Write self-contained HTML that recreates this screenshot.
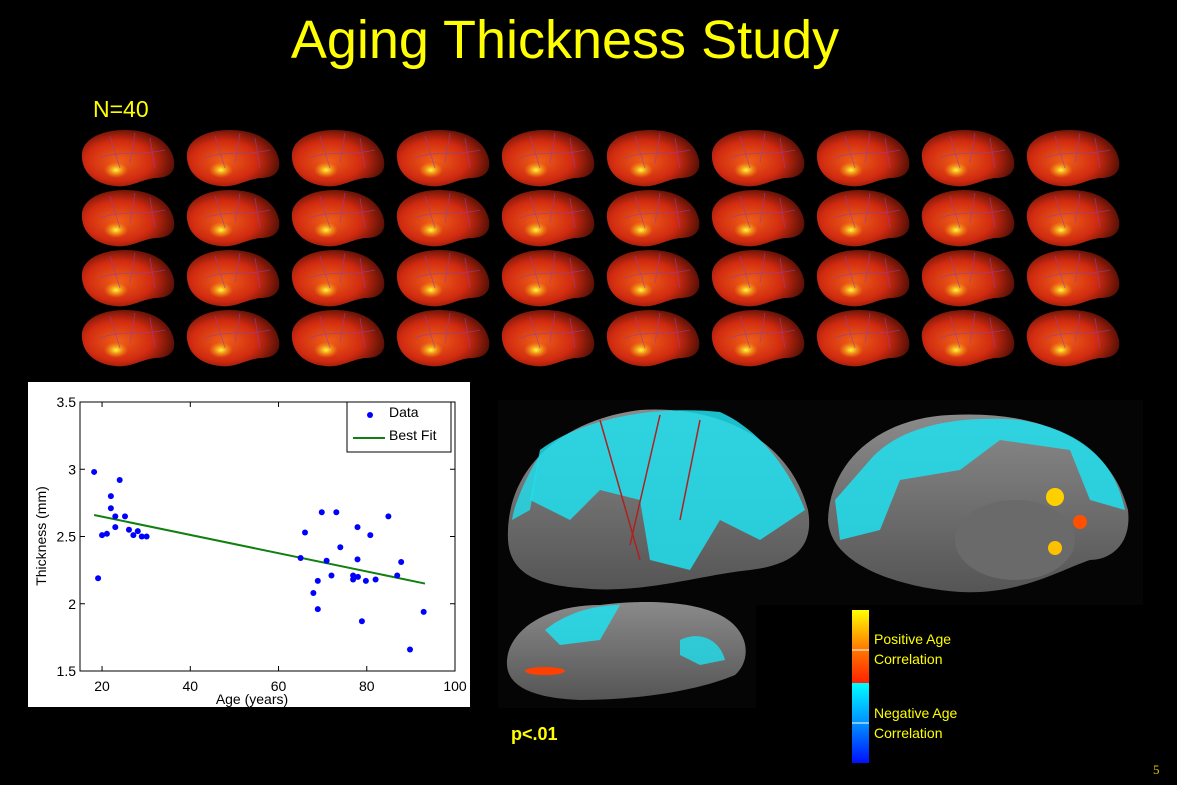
<!DOCTYPE html>
<html><head><meta charset="utf-8"><style>
html,body{margin:0;padding:0;background:#000;}
#root{position:relative;width:1177px;height:785px;background:#000;overflow:hidden;font-family:"Liberation Sans",sans-serif;}
.t{position:absolute;color:#ffff00;}
</style></head><body>
<div id="root">
<div class="t" style="left:0;width:1130px;top:9px;text-align:center;font-size:54px;">Aging Thickness Study</div>
<div class="t" style="left:93px;top:96px;font-size:23px;">N=40</div>
<svg id="brains" width="1177" height="370" style="position:absolute;left:0;top:0">
<defs>
<radialGradient id="rg" cx="0.4" cy="0.55" r="0.6"><stop offset="0" stop-color="#f06018"/><stop offset="0.6" stop-color="#d02a10"/><stop offset="1" stop-color="#5a1006"/></radialGradient>
<radialGradient id="yl" cx="0.5" cy="0.5" r="0.5"><stop offset="0" stop-color="#ffff40"/><stop offset="1" stop-color="#ffaa00" stop-opacity="0"/></radialGradient>
</defs>
</svg>
<svg width="1177" height="785" style="position:absolute;left:0;top:0">
<rect x="28" y="382" width="442" height="325" fill="#fff"/>
<g id="chart"></g>
</svg>
<svg width="1177" height="785" style="position:absolute;left:0;top:0">
<rect x="498" y="400" width="645" height="205" fill="#050505"/>
<rect x="498" y="598" width="258" height="110" fill="#050505"/>
<defs>
<linearGradient id="gr" x1="0" y1="0" x2="0" y2="1"><stop offset="0" stop-color="#8a8a8a"/><stop offset="1" stop-color="#555"/></linearGradient>
<linearGradient id="pos" x1="0" y1="0" x2="0" y2="1"><stop offset="0" stop-color="#ffff00"/><stop offset="0.5" stop-color="#ff8000"/><stop offset="1" stop-color="#ff2000"/></linearGradient>
<linearGradient id="neg" x1="0" y1="0" x2="0" y2="1"><stop offset="0" stop-color="#00ffff"/><stop offset="0.5" stop-color="#0090ff"/><stop offset="1" stop-color="#0010ff"/></linearGradient>
</defs>
<g>
<path d="M508,540 C505,470 560,420 640,410 C720,405 790,440 808,510 C815,550 790,565 750,570 C700,575 640,595 580,588 C540,585 510,575 508,540Z" fill="url(#gr)"/>
<path d="M540,450 C580,420 650,405 720,412 C760,430 790,470 805,510 L760,540 L720,520 L690,570 L650,560 L640,500 L600,490 L570,520 L530,500Z" fill="#1ee0ee" opacity="0.85"/>
<path d="M540,455 C530,470 515,500 512,520 L530,510Z" fill="#1ee0ee" opacity="0.8"/>
<path d="M600,420 L640,560 M660,415 L630,545 M700,420 L680,520" stroke="#b02020" stroke-width="1.5" fill="none"/>
</g>
<g>
<path d="M828,520 C830,460 880,418 950,415 C1040,410 1110,440 1128,510 C1132,545 1110,560 1090,560 C1060,570 1020,595 960,592 C900,588 830,565 828,520Z" fill="url(#gr)"/>
<path d="M870,460 C900,425 960,415 1020,420 C1080,430 1115,460 1125,510 L1090,500 L1070,450 L1000,440 L960,470 L900,480 L880,530 L840,540 L835,500Z" fill="#1ee0ee" opacity="0.85"/>
<ellipse cx="1015" cy="540" rx="60" ry="40" fill="#6a6a6a"/>
<circle cx="1055" cy="497" r="9" fill="#ffd000"/><circle cx="1080" cy="522" r="7" fill="#ff5000"/><circle cx="1055" cy="548" r="7" fill="#ffc000"/>
</g>
<g>
<path d="M507,665 C505,635 540,605 600,605 C640,600 690,600 720,615 C750,630 752,660 735,675 C700,690 640,700 580,700 C530,698 508,685 507,665Z" fill="url(#gr)"/>
<path d="M545,630 C570,610 600,605 620,605 L600,640 L560,645Z" fill="#1ee0ee" opacity="0.85"/>
<path d="M680,640 C700,630 720,640 725,660 L700,665 L680,655Z" fill="#1ee0ee" opacity="0.8"/>
<ellipse cx="545" cy="671" rx="20" ry="4" fill="#ff4000"/>
</g>
<rect x="852" y="610" width="17" height="73" fill="url(#pos)"/>
<rect x="852" y="683" width="17" height="80" fill="url(#neg)"/>
<line x1="852" y1="650" x2="869" y2="650" stroke="#fff"/><line x1="852" y1="723" x2="869" y2="723" stroke="#fff"/>
</svg>
<div class="t" style="left:874px;top:629px;font-size:14px;line-height:20px;">Positive Age<br>Correlation</div>
<div class="t" style="left:874px;top:703px;font-size:14px;line-height:20px;">Negative Age<br>Correlation</div>
<div class="t" style="left:511px;top:724px;font-size:18px;font-weight:bold;">p&lt;.01</div>
<div class="t" style="left:1153px;top:762px;font-size:13px;color:#e0c000;font-family:'Liberation Serif',serif;">5</div>
</div>
<script>
const NS='http://www.w3.org/2000/svg';
function mk(tag,attrs,parent){const e=document.createElementNS(NS,tag);for(const k in attrs)e.setAttribute(k,attrs[k]);parent.appendChild(e);return e;}
const bg=document.getElementById('brains');
for(let r=0;r<4;r++)for(let c=0;c<10;c++){
  const x=80+c*105,y=128+r*60;
  const g=mk('g',{transform:`translate(${x},${y})`},bg);
  
  
  mk('path',{d:'M2,30 C0,12 20,2 45,2 C70,2 90,12 94,32 C96,45 88,50 75,50 C60,52 50,60 35,58 C15,56 3,45 2,30Z',fill:'url(#rg)'},g);
  mk('ellipse',{cx:36,cy:42,rx:12,ry:8,fill:'url(#yl)'},g);
  mk('path',{d:'M20,30 C40,22 60,28 85,22 M30,8 L40,40 M55,5 L50,35 M70,10 L75,40',stroke:'#9040a0','stroke-width':0.8,fill:'none',opacity:0.7},g);
}
const ages=[18.2,19.1,20,21.1,22,22,23,23,24,25.2,26.1,27.1,28.1,29,30.1,65,66,67.9,68.9,68.9,69.8,70.9,72,73.1,74,76.9,76.9,78,77.9,77.9,78.9,79.8,80.8,82,84.9,86.9,87.8,89.8,92.9];
const thick=[2.98,2.19,2.51,2.52,2.80,2.71,2.65,2.57,2.92,2.65,2.55,2.51,2.54,2.50,2.50,2.34,2.53,2.08,2.17,1.96,2.68,2.32,2.21,2.68,2.42,2.21,2.18,2.20,2.57,2.33,1.87,2.17,2.51,2.18,2.65,2.21,2.31,1.66,1.94];
const fitAges=[18.2,93.2];
const fitVals=[2.66,2.15];
const xTicks=[20,40,60,80,100];
const yTicks=[1.5,2,2.5,3,3.5];
const X=a=>80+(a-15)*(375/85);
const Y=v=>671-(v-1.5)*134.5;
const ch=document.getElementById('chart');
const ax=mk('rect',{x:80,y:402,width:375,height:269,fill:'none',stroke:'#000','stroke-width':1},ch);


xTicks.forEach(t=>{
  mk('line',{x1:X(t),x2:X(t),y1:671,y2:666,stroke:'#000'},ch);
  mk('line',{x1:X(t),x2:X(t),y1:402,y2:407,stroke:'#000'},ch);
  const tx=mk('text',{x:X(t),y:691,'text-anchor':'middle','font-size':14,'font-family':'Liberation Sans,sans-serif'},ch);
  tx.textContent=t;
  
  
});
yTicks.forEach(t=>{
  mk('line',{x1:80,x2:85,y1:Y(t),y2:Y(t),stroke:'#000'},ch);
  mk('line',{x1:450,x2:455,y1:Y(t),y2:Y(t),stroke:'#000'},ch);
  const tx=mk('text',{x:76,y:Y(t)+5,'text-anchor':'end','font-size':14,'font-family':'Liberation Sans,sans-serif'},ch);
  tx.textContent=t;
  
  
});
const xl=mk('text',{x:252,y:704,'text-anchor':'middle','font-size':14,'font-family':'Liberation Sans,sans-serif'},ch);
xl.textContent='Age (years)';


const yl=mk('text',{x:46,y:536,'text-anchor':'middle','font-size':14,'font-family':'Liberation Sans,sans-serif',transform:'rotate(-90 46 536)'},ch);
yl.textContent='Thickness (mm)';


const fl=mk('line',{x1:X(fitAges[0]),y1:Y(fitVals[0]),x2:X(fitAges[1]),y2:Y(fitVals[1]),stroke:'#108010','stroke-width':2},ch);


ages.forEach((a,i)=>{
  const c=mk('circle',{cx:X(a),cy:Y(thick[i]),r:3,fill:'#0000ff'},ch);
  
  
});
const lg=mk('g',{},ch);


mk('rect',{x:347,y:402,width:104,height:50,fill:'#fff',stroke:'#000'},lg);
mk('circle',{cx:370,cy:415,r:3,fill:'#0000ff'},lg);
mk('line',{x1:353,x2:385,y1:438,y2:438,stroke:'#108010','stroke-width':2},lg);
const l1=mk('text',{x:389,y:417,'font-size':14,'font-family':'Liberation Sans,sans-serif'},lg);l1.textContent='Data';
const l2=mk('text',{x:389,y:440,'font-size':14,'font-family':'Liberation Sans,sans-serif'},lg);l2.textContent='Best Fit';
</script>
</body></html>
